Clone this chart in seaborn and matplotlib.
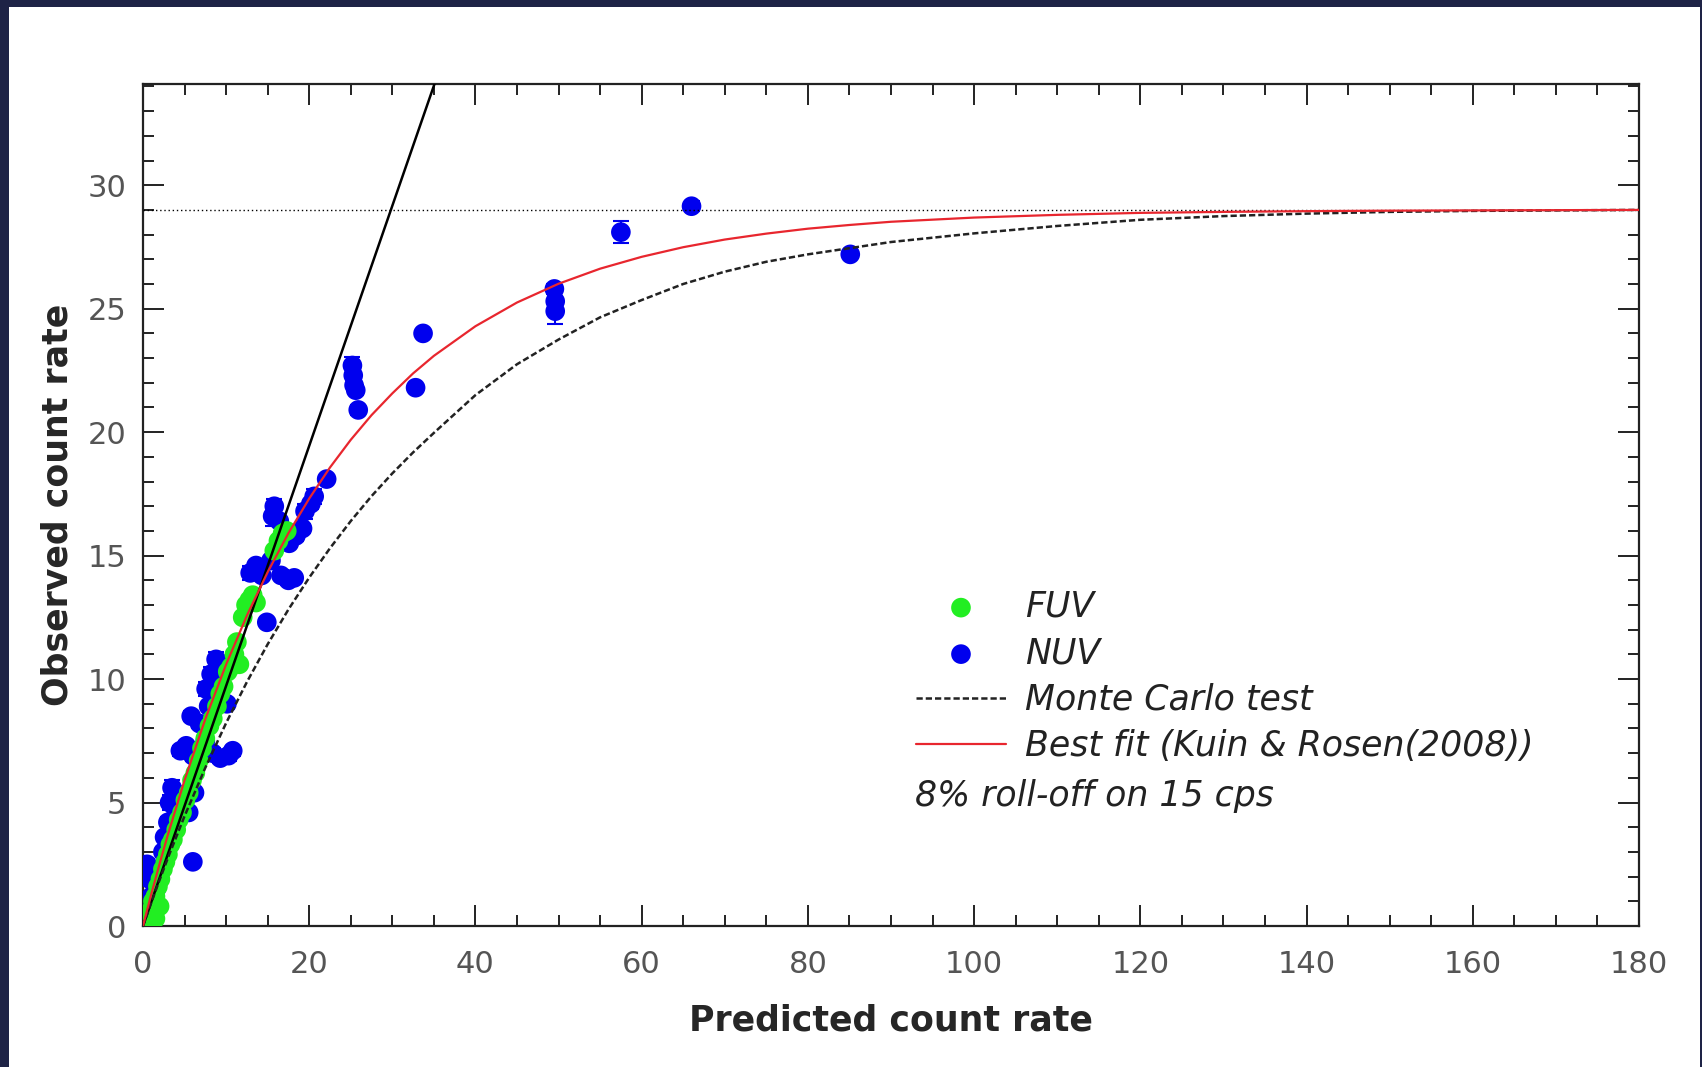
import numpy as np
import pandas as pd
import matplotlib
matplotlib.use("Agg")
import matplotlib.pyplot as plt
import seaborn as sns
from matplotlib.patches import Rectangle
from matplotlib.ticker import MultipleLocator

sns.set_style('ticks')
plt.rcParams['font.family'] = ['DejaVu Sans']

# NUV measurements (predicted, observed, error)
nuv_x = [0.2, 0.5, 0.8, 1.0, 1.2, 1.6, 2.0, 2.4, 2.6, 3.0, 3.2, 3.5, 4.0, 4.5, 5.0,
         5.5, 6.2, 6.0, 4.5, 5.2, 6.0, 5.8, 6.8, 7.5, 8.4, 9.3, 10.3, 10.8, 7.6, 8.2,
         8.8, 9.2, 9.6, 10.1, 7.9, 14.9, 12.9, 13.6, 14.3, 15.4, 16.6, 17.5, 18.2, 15.6,
         15.8, 16.4, 17.6, 18.4, 19.2, 19.5, 20.2, 20.6, 22.1, 25.2, 25.3, 25.4, 25.6,
         25.9, 32.8, 33.7, 49.5, 49.6, 49.6, 57.5, 66.0, 85.1]
nuv_y = [2.2, 2.5, 1.9, 1.2, 0.8, 1.5, 2.2, 3.0, 3.6, 4.2, 5.0, 5.6, 4.6, 5.3, 5.0,
         4.6, 5.4, 2.6, 7.1, 7.3, 6.9, 8.5, 8.2, 7.5, 7.0, 6.8, 6.9, 7.1, 9.6, 10.2,
         10.8, 9.8, 10.6, 9.0, 8.9, 12.3, 14.3, 14.6, 14.2, 14.8, 14.2, 14.0, 14.1, 16.6,
         17.0, 16.4, 15.5, 15.8, 16.1, 16.8, 17.1, 17.4, 18.1, 22.7, 22.3, 21.9, 21.7,
         20.9, 21.8, 24.0, 25.8, 25.3, 24.9, 28.1, 29.15, 27.2]
nuv_err = [0.2, 0.2, 0.2, 0.1, 0.1, 0.2, 0.2, 0.2, 0.2, 0.2, 0.3, 0.3, 0.2, 0.2, 0.2,
           0.2, 0.2, 0.1, 0.2, 0.2, 0.2, 0.2, 0.2, 0.2, 0.2, 0.2, 0.2, 0.2, 0.3, 0.3,
           0.3, 0.2, 0.3, 0.2, 0.2, 0.1, 0.3, 0.2, 0.2, 0.2, 0.2, 0.2, 0.2, 0.4,
           0.3, 0.2, 0.2, 0.2, 0.2, 0.3, 0.2, 0.3, 0.1, 0.35, 0.2, 0.2, 0.2,
           0.2, 0.1, 0.1, 0.2, 0.2, 0.5, 0.45, 0.2, 0.1]

# FUV measurements
fuv_x = [0.3, 0.6, 0.9, 1.2, 1.5, 1.8, 2.1, 2.4, 2.7, 3.0, 3.3, 3.6, 4.0, 4.3, 4.7,
         5.1, 5.5, 5.9, 6.3, 6.7, 7.1, 7.5, 8.0, 8.4, 8.9, 9.3, 9.7, 10.2, 10.6, 11.0,
         11.3, 11.6, 12.0, 12.4, 12.8, 13.2, 13.6, 15.8, 16.3, 16.8, 17.3, 1.0, 1.5, 2.0]
fuv_y = [0.2, 0.5, 0.6, 1.0, 1.2, 1.6, 1.9, 2.3, 2.6, 2.9, 3.3, 3.5, 3.9, 4.3, 4.6,
         5.1, 5.4, 5.9, 6.2, 6.7, 7.2, 7.6, 8.1, 8.4, 8.9, 9.4, 9.7, 10.3, 10.5, 11.0,
         11.5, 10.6, 12.5, 13.0, 13.2, 13.4, 13.1, 15.2, 15.6, 15.9, 16.0, 0.1, 0.3, 0.8]

# curves
curve_x = [0, 1, 2, 3, 5, 7.5, 10, 12.5, 15, 17.5, 20, 22.5, 25, 27.5, 30, 32.5, 35,
           40, 45, 50, 55, 60, 65, 70, 75, 80, 85, 90, 100, 110, 120, 130, 140, 150,
           160, 170, 180]
fit_y = [0, 1.29, 2.52, 3.70, 5.90, 8.38, 10.59, 12.57, 14.33, 15.91, 17.31, 18.57,
         19.69, 20.69, 21.57, 22.38, 23.09, 24.29, 25.25, 26.01, 26.62, 27.10, 27.49,
         27.80, 28.04, 28.24, 28.39, 28.52, 28.69, 28.80, 28.88, 28.92, 28.95, 28.97,
         28.98, 28.99, 29.0]
mc_y = [0, 0.95, 1.87, 2.76, 4.45, 6.41, 8.22, 9.88, 11.41, 12.82, 14.11, 15.30,
        16.40, 17.41, 18.33, 19.18, 19.97, 21.5, 22.75, 23.75, 24.65, 25.35, 26.0,
        26.5, 26.9, 27.2, 27.45, 27.7, 28.05, 28.35, 28.6, 28.75, 28.85, 28.92,
        28.96, 28.98, 29.0]
linear_x = [0, 36]
linear_y = [0, 35]
saturation = 29

fig = plt.figure(figsize=(17.02, 10.67), dpi=100, facecolor='#1e2346')
fig.patches.append(Rectangle((0.005, 0.0), 0.994, 0.9934, transform=fig.transFigure,
                             facecolor='white', edgecolor='none', zorder=-10))
ax = fig.add_axes([0.084, 0.1321, 0.879, 0.7892])
ax.set_facecolor('white')

ax.errorbar(nuv_x, nuv_y, yerr=nuv_err, fmt='none', ecolor='#0000ee', elinewidth=1.5,
            capsize=6, capthick=1.5, zorder=2)
sns.scatterplot(x=nuv_x, y=nuv_y, color='#0000ee', s=200, edgecolor='none', ax=ax,
                label='NUV', zorder=3)
sns.scatterplot(x=fuv_x, y=fuv_y, color='#22ee22', s=200, edgecolor='none', ax=ax,
                label='FUV', zorder=4)

ax.axhline(saturation, color='black', lw=1.0, ls=(0, (1, 2)), zorder=5)
ax.plot(linear_x, linear_y, color='black', lw=1.8, zorder=6)
sns.lineplot(x=curve_x, y=mc_y, color='#222222', lw=1.8, ls=(0, (2.5, 1.2)), ax=ax,
             label='Monte Carlo test', zorder=6)
sns.lineplot(x=curve_x, y=fit_y, color='#e8262e', lw=1.6, ax=ax,
             label='Best fit (Kuin & Rosen(2008))', zorder=7)

ax.set_xlim(0, 180)
ax.set_ylim(0, 34.1)
ax.xaxis.set_major_locator(MultipleLocator(20))
ax.xaxis.set_minor_locator(MultipleLocator(5))
ax.yaxis.set_major_locator(MultipleLocator(5))
ax.yaxis.set_minor_locator(MultipleLocator(1))
ax.tick_params(which='both', direction='in', top=True, right=True, width=1.4,
               colors='#222222', labelcolor='#555555', labelsize=22)
ax.tick_params(which='major', length=15, pad=12)
ax.tick_params(axis='x', which='major', pad=17)
ax.tick_params(which='minor', length=8)
for s in ax.spines.values():
    s.set_linewidth(1.6)
    s.set_color('#222222')

ax.set_xlabel('Predicted count rate', fontsize=25, fontweight='bold', labelpad=18)
ax.set_ylabel('Observed count rate', fontsize=25, fontweight='bold', labelpad=9)

handles, labels = ax.get_legend_handles_labels()
order = [labels.index(l) for l in ['FUV', 'NUV', 'Monte Carlo test',
                                   'Best fit (Kuin & Rosen(2008))']]
leg = ax.legend([handles[i] for i in order], [labels[i] for i in order],
                loc='upper left', bbox_to_anchor=(0.505, 0.42), frameon=False,
                handlelength=2.6, handletextpad=0.55, labelspacing=0.36,
                prop={'size': 25, 'style': 'italic'}, borderpad=0)
for t in leg.get_texts():
    t.set_color('#222222')
ax.text(0.516, 0.155, '8% roll-off on 15 cps', transform=ax.transAxes, fontsize=25,
        style='italic', color='#222222', va='center', ha='left')

fig.savefig('out.png', dpi=100, facecolor=fig.get_facecolor())
